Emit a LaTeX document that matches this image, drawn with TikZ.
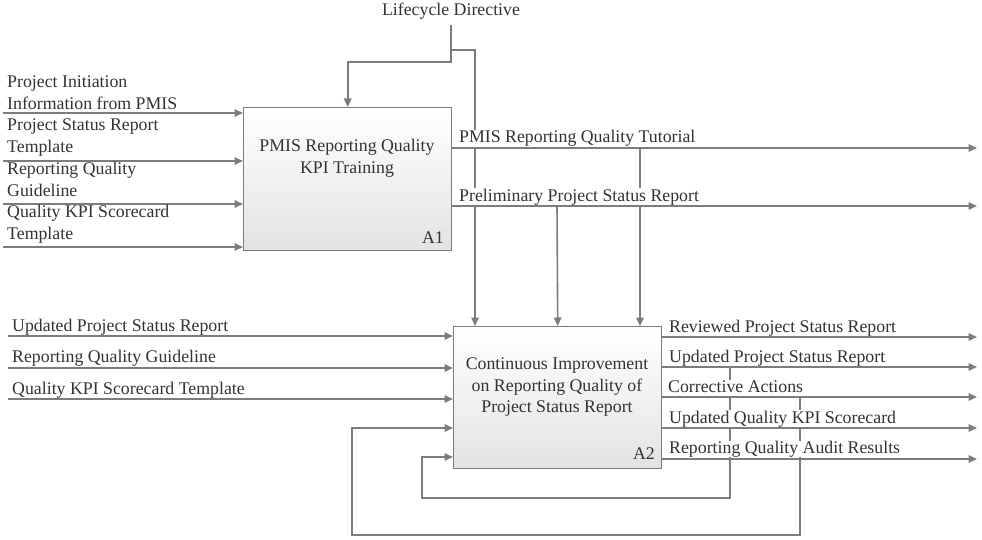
\documentclass[tikz,border=0pt]{standalone}
\usepackage{fontspec}
\setmainfont{Liberation Serif}
\usetikzlibrary{arrows.meta}
\definecolor{linegray}{HTML}{7C7C7C}
\definecolor{textgray}{HTML}{333333}
\tikzset{
  boxstyle/.style={draw=linegray, line width=1.4pt, top color=white, bottom color=black!11, inner sep=0pt},
  flow/.style={draw=linegray, line width=1.6pt, -{Triangle[length=8.5pt,width=7.5pt]}},
  plain/.style={draw=linegray, line width=1.6pt},
  lbl/.style={font=\fontsize{17.8}{21.5}\selectfont, text=textgray, anchor=base west, inner sep=0pt},
  olbl/.style={lbl, fill=white, inner xsep=1pt, inner ysep=0.6pt, text depth=3pt},
  boxtext/.style={font=\fontsize{17.8}{21.5}\selectfont, text=textgray, align=center, inner sep=0pt},
}
\begin{document}
\begin{tikzpicture}[x=1pt, y=-1pt]
\useasboundingbox (0,0) rectangle (982,540);
% boxes
\node[boxstyle, minimum width=208pt, minimum height=143pt, anchor=north west] (A1) at (243,107) {};
\node[boxstyle, minimum width=208pt, minimum height=142pt, anchor=north west] (A2) at (453,326) {};
\node[boxtext] (A1t) at (347,158) {PMIS Reporting Quality\\KPI Training};
\node[boxtext] (A1n) at (433,238) {A1};
\node[boxtext] (A2t) at (557,387) {Continuous Improvement\\on Reporting Quality of\\Project Status Report};
\node[boxtext] (A2n) at (644,454) {A2};

% Lifecycle directive
\node[boxtext] (LD) at (451,11) {Lifecycle Directive};
\coordinate (ldTop) at (451,25);
\coordinate (ldJ) at (451,50);
\coordinate (ldK) at (451,62);
\coordinate (ldR) at (475,50);
\draw[flow] (ldTop) -- (ldK) -| (A1.north);
\draw[flow] (ldJ) -- (ldR) -- (ldR |- A2.north);

% A1 inputs
\coordinate (i1) at (3,113);
\coordinate (i2) at (3,161);
\coordinate (i3) at (3,204);
\coordinate (i4) at (3,247);
\draw[flow] (i1) -- (i1 -| A1.west);
\draw[flow] (i2) -- (i2 -| A1.west);
\draw[flow] (i3) -- (i3 -| A1.west);
\draw[flow] (i4) -- (i4 -| A1.west);

% A1 outputs
\coordinate (o1) at (977,148);
\coordinate (o2) at (977,206);
\draw[flow] (A1.east |- o1) -- (o1);
\draw[flow] (A1.east |- o2) -- (o2);
\coordinate (t2) at (640,148);
\coordinate (p2) at (557,206);
\draw[flow] (t2) -- (t2 |- A2.north);
\draw[flow] (p2) -- (A2.north);

% A2 inputs
\coordinate (j1) at (8,336);
\coordinate (j2) at (8,368);
\coordinate (j3) at (8,399);
\draw[flow] (j1) -- (j1 -| A2.west);
\draw[flow] (j2) -- (j2 -| A2.west);
\draw[flow] (j3) -- (j3 -| A2.west);

% A2 outputs
\coordinate (q1) at (977,337);
\coordinate (q2) at (977,367);
\coordinate (q3) at (977,397);
\coordinate (q4) at (977,428);
\coordinate (q5) at (977,459);
\draw[flow] (A2.east |- q1) -- (q1);
\draw[flow] (A2.east |- q2) -- (q2);
\draw[flow] (A2.east |- q3) -- (q3);
\draw[flow] (A2.east |- q4) -- (q4);
\draw[flow] (A2.east |- q5) -- (q5);

% feedback loops
\coordinate (f1) at (730,367);
\coordinate (f1b) at (422,498);
\coordinate (f1e) at (422,457);
\draw[flow] (f1) |- (f1b) -- (f1e) -- (f1e -| A2.west);
\coordinate (f2) at (800,397);
\coordinate (f2b) at (352,535);
\coordinate (f2e) at (352,428);
\draw[flow] (f2) |- (f2b) -- (f2e) -- (f2e -| A2.west);

% A1 input labels
\node[lbl] (l1a) at (7,88) {Project Initiation};
\node[lbl] (l1b) at (7,109.5) {Information from PMIS};
\node[lbl] (l2a) at (7,131) {Project Status Report};
\node[lbl] (l2b) at (7,152.5) {Template};
\node[lbl] (l3a) at (7,175) {Reporting Quality};
\node[lbl] (l3b) at (7,196.5) {Guideline};
\node[lbl] (l4a) at (7,218) {Quality KPI Scorecard};
\node[lbl] (l4b) at (7,239.5) {Template};

% A1 output labels
\node[olbl] (m1) at (458,143) {PMIS Reporting Quality Tutorial};
\node[olbl] (m2) at (458,201) {Preliminary Project Status Report};

% A2 input labels
\node[lbl] (n1) at (12,331) {Updated Project Status Report};
\node[lbl] (n2) at (12,362.5) {Reporting Quality Guideline};
\node[lbl] (n3) at (12,394) {Quality KPI Scorecard Template};

% A2 output labels
\node[olbl] (r1) at (668,332) {Reviewed Project Status Report};
\node[olbl] (r2) at (668,362.5) {Updated Project Status Report};
\node[olbl] (r3) at (667,392) {Corrective Actions};
\node[olbl] (r4) at (668,423) {Updated Quality KPI Scorecard};
\node[olbl] (r5) at (668,453.5) {Reporting Quality Audit Results};
\end{tikzpicture}
\end{document}
